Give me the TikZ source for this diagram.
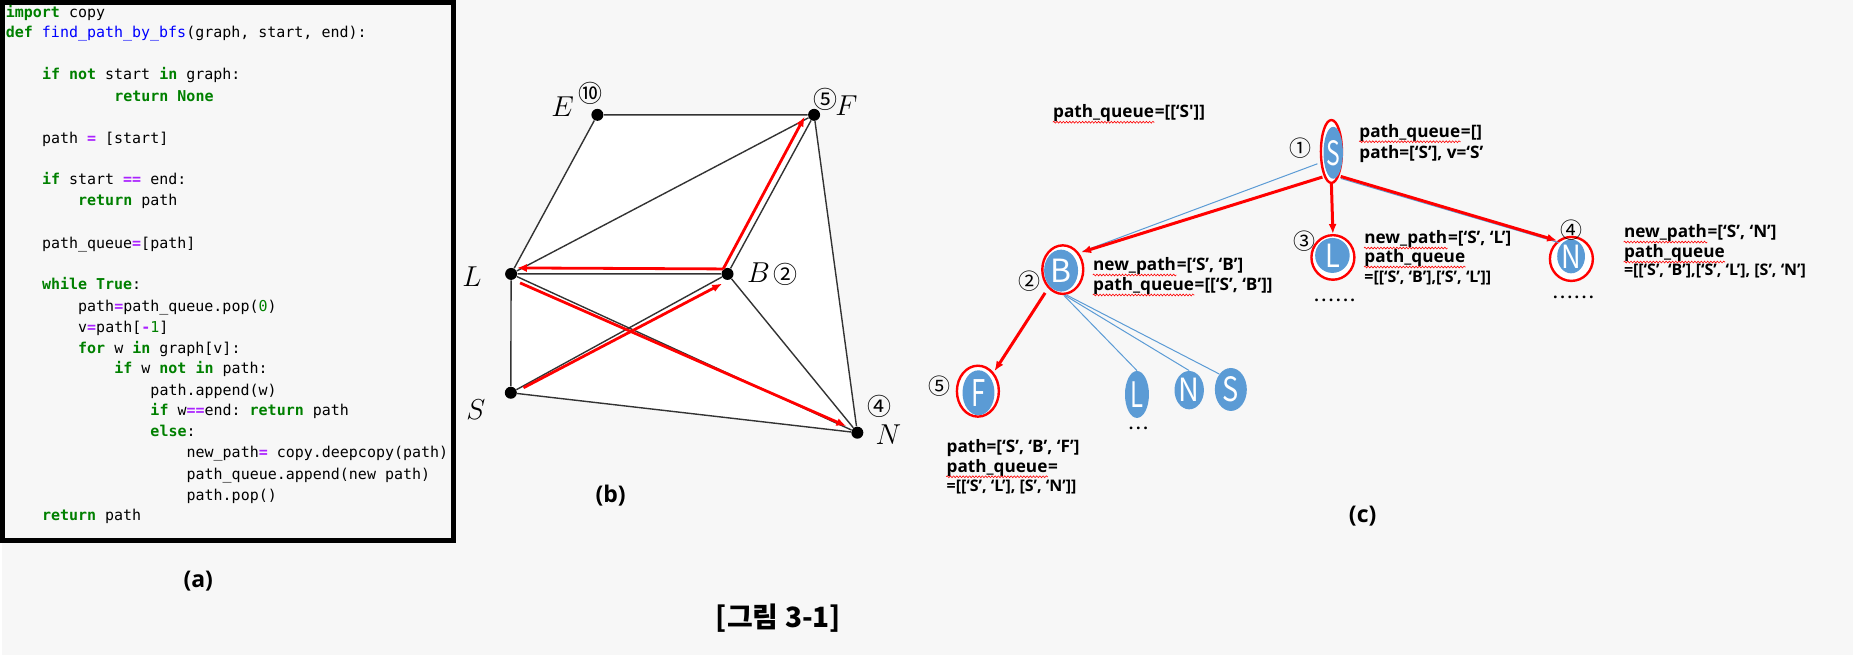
\documentclass[tikz,border=0pt]{standalone}
\usepackage{fontspec}
\usepackage{graphicx}
\usetikzlibrary{shapes.geometric, arrows.meta, decorations.pathmorphing}

\setmonofont{DejaVu Sans Mono}
\newfontfamily\notefont{Open Sans}
\newfontfamily\kofont{Noto Sans CJK KR}

\definecolor{pagegray}{HTML}{F7F7F7}
\definecolor{nodeblue}{HTML}{5B9BD5}
\definecolor{kwgreen}{HTML}{008000}
\definecolor{fnblue}{HTML}{0000FF}
\definecolor{oppurple}{HTML}{AA22FF}
\definecolor{edgegray}{HTML}{333333}

% Syntax colours for the listing
\newcommand\kw[1]{\textcolor{kwgreen}{\bfseries #1}}
\newcommand\op[1]{\textcolor{oppurple}{\bfseries #1}}
\newcommand\fn[1]{\textcolor{fnblue}{#1}}
\newcommand\nm[1]{\textcolor{kwgreen}{#1}}

\begin{document}
\begin{tikzpicture}[x=0.5pt, y=-0.5pt, >={Latex[length=5pt, width=4pt]},
	codeline/.style={anchor=base west, inner sep=0pt, font=\ttfamily\fontsize{7.5}{9}\selectfont},
	gdot/.style={circle, fill=black, inner sep=0pt, minimum size=6pt},
	graphline/.style={draw=edgegray, line width=0.7pt},
	glabel/.style={font=\fontsize{13.5}{15}\selectfont, inner sep=0pt},
	circnum/.style={font=\kofont\fontsize{12}{13}\selectfont, inner sep=0pt},
	treenum/.style={font=\kofont\fontsize{11}{12}\selectfont, inner sep=0pt},
	redarr/.style={draw=red, line width=1.4pt, ->},
	ring/.style={ellipse, draw=red, line width=1.2pt, fill=white, inner sep=0pt},
	leaf/.style={ellipse, fill=nodeblue, text=white, inner sep=0pt, font=\kofont\fontsize{16}{16}\selectfont},
	treeline/.style={draw=nodeblue, line width=0.5pt},
	note/.style={anchor=base west, inner sep=0pt, font=\notefont\bfseries\fontsize{8.6}{10}\selectfont},
	notesmall/.style={note, font=\notefont\bfseries\fontsize{8}{10}\selectfont},
	spell/.style={draw=red, line width=0.3pt, decorate, decoration={snake, amplitude=0.45pt, segment length=1.6pt}},
	dotrow/.style={anchor=base, inner sep=0pt, font=\notefont\bfseries\fontsize{8}{10}\selectfont},
	caption/.style={font=\notefont\bfseries\fontsize{11.5}{13}\selectfont, inner sep=0pt}]

	% Definitions

	\def\indw{9.05}		% width of one character of the listing
	\def\xo{3}		% left margin of the listing


	% Page and listing frame

	\fill [pagegray] (0, 0) rectangle (1853, 656);
	\draw [line width=2.5pt] (0, 2.5) rectangle (452, 541);


	% (a) listing

	\node [codeline] (c1) at (\xo, 17.5) {\kw{import} copy};
	\node [codeline] (c2) at (\xo, 38) {\kw{def} \fn{find\_path\_by\_bfs}(graph, start, end):};
	\node [codeline] (c3) at (\xo + 4*\indw, 80) {\kw{if} \kw{not} start \kw{in} graph:};
	\node [codeline] (c4) at (\xo + 12*\indw, 101.5) {\kw{return} \kw{None}};
	\node [codeline] (c5) at (\xo + 4*\indw, 143.5) {path \op{=} [start]};
	\node [codeline] (c6) at (\xo + 4*\indw, 185) {\kw{if} start \op{==} end:};
	\node [codeline] (c7) at (\xo + 8*\indw, 206) {\kw{return} path};
	\node [codeline] (c8) at (\xo + 4*\indw, 248.5) {path\_queue\op{=}[path]};
	\node [codeline] (c9) at (\xo + 4*\indw, 290) {\kw{while} \kw{True}:};
	\node [codeline] (c10) at (\xo + 8*\indw, 312) {path\op{=}path\_queue.pop(\nm{0})};
	\node [codeline] (c11) at (\xo + 8*\indw, 332.5) {v\op{=}path[\op{-}\nm{1}]};
	\node [codeline] (c12) at (\xo + 8*\indw, 353.5) {\kw{for} w \kw{in} graph[v]:};
	\node [codeline] (c13) at (\xo + 12*\indw, 374) {\kw{if} w \kw{not} \kw{in} path:};
	\node [codeline] (c14) at (\xo + 16*\indw, 396) {path.append(w)};
	\node [codeline] (c15) at (\xo + 16*\indw, 416.5) {\kw{if} w\op{==}end: \kw{return} path};
	\node [codeline] (c16) at (\xo + 16*\indw, 437.5) {\kw{else}:};
	\node [codeline] (c17) at (\xo + 20*\indw, 458.5) {new\_path\op{=} copy.deepcopy(path)};
	\node [codeline] (c18) at (\xo + 20*\indw, 480) {path\_queue.append(new path)};
	\node [codeline] (c19) at (\xo + 20*\indw, 501) {path.pop()};
	\node [codeline] (c20) at (\xo + 4*\indw, 521.5) {\kw{return} path};

	\node [caption] (capa) at (196, 582) {(a)};


	% (b) graph

	\coordinate (vE) at (595.7, 115);
	\coordinate (vF) at (812.7, 115);
	\coordinate (vL) at (509.3, 274.3);
	\coordinate (vB) at (726, 274.3);
	\coordinate (vS) at (509, 393.3);
	\coordinate (vN) at (856, 433.3);

	\fill [white] (vE) -- (vF) -- (vN) -- (vS) -- (vL) -- cycle;		% white sheet behind the graph

	\foreach \v in {E, F, L, B, S, N}
		\node [gdot] (g\v) at (v\v) {};

	\draw [graphline] (gE) -- (gF)  (gE) -- (gL)  (gL) -- (gF)  (gB) -- (gF)  (gF) -- (gN)
		(gL) -- (gB)  (gL) -- (gS)  (gL) -- (gN)  (gS) -- (gB)  (gS) -- (gN)  (gB) -- (gN);

	% BFS steps, drawn beside the edges
	\draw [redarr] ([shift={(-4.3, -5)}]gB.center) -- ([shift={(5.7, -6)}]gL.center);
	\draw [redarr] ([shift={(-4.3, -5)}]gB.center) -- ([shift={(-9.4, 1.7)}]gF.center);
	\draw [redarr] ([shift={(12.7, -5)}]gS.center) -- ([shift={(-5.3, 9.7)}]gB.center);
	\draw [redarr] ([shift={(9, 9)}]gL.center) -- ([shift={(-11, -6.6)}]gN.center);

	\node [glabel] (lE) at (561, 106.7) {$E$};
	\node [glabel] (lF) at (845, 106) {$F$};
	\node [glabel] (lL) at (470, 276.7) {$L$};
	\node [glabel] (lB) at (757, 273.3) {$B$};
	\node [glabel] (lS) at (474, 410) {$S$};
	\node [glabel] (lN) at (887, 435) {$N$};

	\node [circnum] (nE) at (588.3, 93.3) {⑩};
	\node [circnum] (nF) at (824, 100) {⑤};
	\node [circnum] (nB) at (784, 275) {②};
	\node [circnum] (nN) at (878.3, 406.7) {④};

	\node [caption] (capb) at (609, 496) {(b)};


	% (c) search tree

	\node [ring, minimum width=10.5pt, minimum height=31.5pt] (rS) at (1330.7, 151.7) {};
	\node [leaf, minimum width=9.3pt, minimum height=26pt] (tS) at (1332.5, 153) {\scalebox{0.72}[1.05]{S}};

	\node [ring, minimum width=20.5pt, minimum height=24.3pt] (rB) at (1061.7, 270) {};
	\node [leaf, minimum width=17pt, minimum height=21pt] (tB) at (1060, 271) {B};

	\node [ring, minimum width=21.5pt, minimum height=22.3pt] (rL) at (1332.2, 257.8) {};
	\node [leaf, minimum width=17.3pt, minimum height=17.5pt] (tL) at (1331.7, 255.8) {\scalebox{0.85}[1]{L}};

	\node [ring, minimum width=21.5pt, minimum height=22pt] (rN) at (1571, 259.3) {};
	\node [leaf, minimum width=13pt, minimum height=17pt] (tN) at (1570.7, 256.7) {\scalebox{0.85}[1]{N}};

	\node [ring, minimum width=21pt, minimum height=25.5pt] (rF) at (976.7, 391.7) {};
	\node [leaf, minimum width=16pt, minimum height=22.5pt] (tF) at (977.3, 393.3) {\scalebox{0.8}[1.15]{F}};

	\node [leaf, minimum width=12pt, minimum height=23.5pt] (sL) at (1136, 395) {\scalebox{0.75}[1.1]{L}};
	\node [leaf, minimum width=12.3pt, minimum height=19.2pt] (sN) at (1188.3, 390.7) {\scalebox{0.9}[1]{N}};
	\node [leaf, minimum width=16pt, minimum height=21.5pt] (sS) at (1230, 390) {\scalebox{0.85}[1.05]{S}};

	% Thin tree edges
	\draw [treeline] ([shift={(-14, 12.3)}]rS.center) -- ([shift={(20, -18.3)}]rB.center);
	\draw [treeline] ([shift={(9.3, 27)}]rS.center) -- ([shift={(-12.5, -16.3)}]rN.center);
	\draw [treeline] ([shift={(1, 25.7)}]rB.center) -- (sL.north);
	\draw [treeline] ([shift={(2, 25.7)}]rB.center) -- (sN.north);
	\draw [treeline] ([shift={(3, 25)}]rB.center) -- (sS.north west);

	% Expanded paths
	\begin{scope}[redarr, line width=1.5pt]
		\draw ([shift={(-9, 25.6)}]rS.center) -- ([shift={(18.3, -17.3)}]rB.center);
		\draw (rS.south) -- (rL.north);
		\draw ([shift={(9.3, 25)}]rS.center) -- ([shift={(-14.3, -18.3)}]rN.center);
		\draw ([shift={(-17.7, 23.3)}]rB.center) -- ([shift={(16.6, -20)}]rF.center);
	\end{scope}

	\node [treenum] (n1) at (1300, 148.3) {①};
	\node [treenum] (n2) at (1028.3, 281.7) {②};
	\node [treenum] (n3) at (1303.3, 241.7) {③};
	\node [treenum] (n4) at (1570.7, 230) {④};
	\node [treenum] (n5) at (938.3, 386.7) {⑤};

	% Queue notes: the word with the spell-check wave is a node of its own
	\node [note] (q0) at (1051.7, 118) {path\_queue};
	\node [note] (q0r) at (q0.base east) {=[[‘S']]};

	\node [note] (qS1) at (1358.3, 137.5) {path\_queue};
	\node [note] (qS1r) at (qS1.base east) {=[]};
	\node [note] (qS2) at (1358.3, 159) {path=[‘S’], v=‘S’};

	\node [note] (qB1) at (1091.7, 271) {new\_path};
	\node [note] (qB1r) at (qB1.base east) {=[‘S’, ‘B’]};
	\node [note] (qB2) at (1091.7, 291) {path\_queue};
	\node [note] (qB2r) at (qB2.base east) {=[[‘S’, ‘B’]]};

	\node [note] (qL1) at (1363.3, 244) {new\_path};
	\node [note] (qL1r) at (qL1.base east) {=[‘S’, ‘L’]};
	\node [note] (qL2) at (1363.3, 263) {path\_queue};
	\node [notesmall] (qL3) at (1363.3, 283) {=[[‘S’, ‘B’],[‘S’, ‘L’]]};

	\node [note] (qN1) at (1623.3, 238) {new\_path};
	\node [note] (qN1r) at (qN1.base east) {=[‘S’, ‘N’]};
	\node [note] (qN2) at (1623.3, 258) {path\_queue};
	\node [notesmall] (qN3) at (1623.3, 276) {=[[‘S’, ‘B’],[‘S’, ‘L’], [S’, ‘N’]};

	\node [note] (qF1) at (945, 453) {path=[‘S’, ‘B’, ‘F’]};
	\node [note] (qF2) at (945, 473) {path\_queue};
	\node [note] (qF2r) at (qF2.base east) {=};
	\node [notesmall] (qF3) at (945, 492) {=[[‘S’, ‘L’], [S’, ‘N’]]};

	\foreach \w in {q0, qS1, qB1, qB2, qL1, qL2, qN1, qN2, qF2}
		\draw [spell] ([yshift=-2.2pt]\w.base west) -- ([yshift=-2.2pt]\w.base east);

	\node [dotrow] (dL) at (1334, 302) {.\,.\,.\,.\,.\,.};
	\node [dotrow] (dN) at (1573, 298.5) {.\,.\,.\,.\,.\,.};
	\node [dotrow] (dsL) at (1137.5, 430.5) {.\,.\,.};

	\node [caption] (capc) at (1362, 517) {(c)};


	% Figure title

	\node [caption, font=\kofont\bfseries\fontsize{14}{16}\selectfont] (title) at (777, 619) {[그림 3-1]};

\end{tikzpicture}
\end{document}
